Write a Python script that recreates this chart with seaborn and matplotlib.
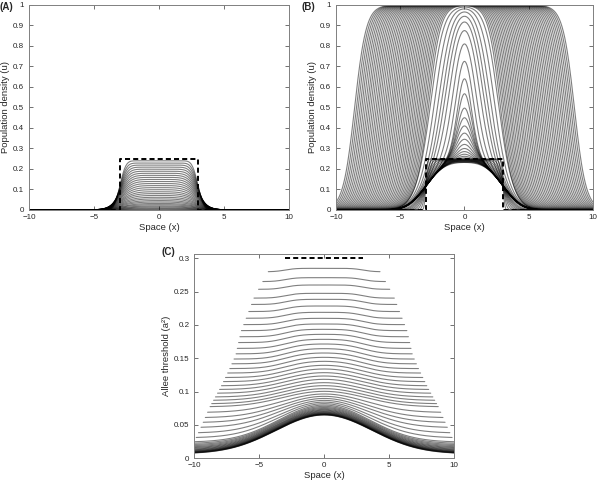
import math
import numpy as np
import pandas as pd
import matplotlib
matplotlib.use('Agg')
import matplotlib.pyplot as plt
import seaborn as sns

# ---- data ----
# (A) plateau heights and edge softness of the decaying curves
A_height = [0.240, 0.229, 0.219, 0.209, 0.199, 0.189, 0.179, 0.169, 0.159, 0.149,
            0.139, 0.129, 0.119, 0.109, 0.099, 0.089, 0.080, 0.071, 0.062, 0.054,
            0.046, 0.039, 0.032, 0.026, 0.020, 0.015, 0.010, 0.006, 0.003]
A_soft = [0.50, 0.56, 0.62, 0.68, 0.73, 0.78, 0.83, 0.88, 0.92, 0.96,
          1.00, 1.04, 1.08, 1.12, 1.16, 1.20, 1.24, 1.28, 1.32, 1.36,
          1.40, 1.44, 1.48, 1.52, 1.56, 1.60, 1.64, 1.68, 1.72]

# (B) box relaxing into the sub-threshold bump
B_box_height = [0.249, 0.247, 0.245, 0.243, 0.241, 0.239, 0.237, 0.235, 0.233, 0.232]
B_box_soft = [0.15, 0.30, 0.45, 0.60, 0.75, 0.90, 1.05, 1.20, 1.40, 1.60]
# (B) centre peaks of the growing arches
B_peak = [0.241, 0.247, 0.254, 0.262, 0.272, 0.285, 0.300, 0.320, 0.345, 0.375,
          0.410, 0.450, 0.497, 0.567, 0.640, 0.725, 0.810, 0.875, 0.917, 0.945,
          0.966, 0.981, 0.990]
# (B) half-level positions of the spreading fronts
B_front = [2.67, 2.81, 2.95, 3.09, 3.23, 3.37, 3.51, 3.65, 3.79, 3.93,
           4.07, 4.21, 4.35, 4.49, 4.63, 4.77, 4.91, 5.05, 5.19, 5.33,
           5.47, 5.61, 5.75, 5.89, 6.03, 6.17, 6.31, 6.45, 6.59, 6.73,
           6.87, 7.01, 7.15, 7.29, 7.43, 7.57, 7.71, 7.85, 7.99, 8.13,
           8.27, 8.41, 8.55]

# (C) centre values of the Allee threshold curves
C_height = [0.285, 0.271, 0.260, 0.2475, 0.2385, 0.2285, 0.219, 0.210, 0.2015, 0.1935,
            0.186, 0.1785, 0.1715, 0.1645, 0.158, 0.1515, 0.1455, 0.1395, 0.134, 0.1285,
            0.1235, 0.1185, 0.1135, 0.109, 0.1045, 0.1005, 0.0965, 0.093, 0.0898, 0.0869,
            0.0843, 0.082, 0.0799, 0.078, 0.0763, 0.0748, 0.0734, 0.0722, 0.0711, 0.0701,
            0.0692, 0.0684, 0.0677, 0.0671, 0.0666, 0.0662, 0.0658, 0.0655, 0.0652, 0.065]
# (C) where each curve ends and its value there, by centre value
C_tab_h = [0.065, 0.080, 0.088, 0.100, 0.125, 0.150, 0.170, 0.200, 0.250, 0.285]
C_tab_end = [10.0, 10.0, 9.4, 8.8, 8.0, 7.3, 6.8, 6.4, 5.35, 4.3]
C_tab_endval = [0.008, 0.025, 0.050, 0.077, 0.105, 0.133, 0.155, 0.190, 0.243, 0.280]
C_soft_h = [0.065, 0.100, 0.150, 0.200, 0.285]
C_soft = [4.5, 3.5, 2.0, 1.3, 0.9]

u0_x = [-10, -3, -3, 3, 3, 10]
u0_y = [0, 0, 0.25, 0.25, 0, 0]
a0_x = [-3, 3]
a0_y = [0.3, 0.3]

x = np.linspace(-10, 10, 401)
verf = np.vectorize(math.erf)


def erf_box(xx, s):
    return 0.5 * (verf((xx + 3) / s) - verf((xx - 3) / s))


def pulse(xx, r, w):
    return 0.5 * (np.tanh((xx + r) / w) - np.tanh((xx - r) / w))


def frame(curves):
    rows = []
    for k, (xx, yy) in enumerate(curves):
        rows.append(pd.DataFrame({'curve': k, 'x': xx, 'y': yy}))
    return pd.concat(rows, ignore_index=True)


# panel A
curves_a = []
for h, s in zip(A_height, A_soft):
    curves_a.append((x, h * erf_box(x, s) / erf_box(np.array([0.0]), s)[0]))

# panel B
curves_b = []
for h, s in zip(B_box_height, B_box_soft):
    curves_b.append((x, h * erf_box(x, s) / erf_box(np.array([0.0]), s)[0]))
bump = curves_b[-1][1]
b0 = B_box_height[-1]
for p in B_peak:
    w = np.interp(p, [0.24, 0.35, 0.5, 0.64, 0.8, 0.9, 0.98, 1.0],
                  [1.0, 0.9, 0.75, 0.68, 0.83, 0.95, 1.0, 1.0])
    r = w * np.arctanh((p - b0) / (1 - b0))
    g = pulse(x, r, w)
    curves_b.append((x, bump + (1 - bump) * g))
for r in B_front:
    g = pulse(x, r, 0.9)
    curves_b.append((x, bump + (1 - bump) * g))

# panel C
curves_c = []
for h in C_height:
    L = np.interp(h, C_tab_h, C_tab_end)
    e = np.interp(h, C_tab_h, C_tab_endval)
    s = np.interp(h, C_soft_h, C_soft)
    xx = np.linspace(-L, L, 301)
    S = erf_box(xx, s)
    S0 = erf_box(np.array([0.0]), s)[0]
    SL = erf_box(np.array([L]), s)[0]
    curves_c.append((xx, e + (h - e) * (S - SL) / (S0 - SL)))

# ---- drawing ----
sns.set_style('ticks')
plt.rcParams['font.family'] = ['Liberation Sans', 'DejaVu Sans']

fig = plt.figure(figsize=(6, 4.8), dpi=100)
ax_a = fig.add_axes([0.0483, 0.5625, 0.4334, 0.4271])
ax_b = fig.add_axes([0.5600, 0.5625, 0.4283, 0.4271])
ax_c = fig.add_axes([0.3238, 0.0452, 0.4329, 0.4263])

line_kw = dict(x='x', y='y', units='curve', estimator=None, sort=False,
               color='k', alpha=0.5, linewidth=0.8, legend=False)
sns.lineplot(data=frame(curves_a), ax=ax_a, **line_kw)
sns.lineplot(data=frame(curves_b), ax=ax_b, **line_kw)
sns.lineplot(data=frame(curves_c), ax=ax_c, **line_kw)

for ax in (ax_a, ax_b):
    ax.plot(u0_x, u0_y, color='k', lw=1.4, dashes=(2.6, 1.6))
ax_c.plot(a0_x, a0_y, color='k', lw=1.4, dashes=(2.6, 1.6))

u_ticks = [0, 0.1, 0.2, 0.3, 0.4, 0.5, 0.6, 0.7, 0.8, 0.9, 1]
u_labels = ['0', '0.1', '0.2', '0.3', '0.4', '0.5', '0.6', '0.7', '0.8', '0.9', '1']
a_ticks = [0, 0.05, 0.1, 0.15, 0.2, 0.25, 0.3]
a_labels = ['0', '0.05', '0.1', '0.15', '0.2', '0.25', '0.3']

for ax, ylim, yt, yl, lab in [(ax_a, (0, 1), u_ticks, u_labels, 'Population density (u)'),
                              (ax_b, (0, 1), u_ticks, u_labels, 'Population density (u)'),
                              (ax_c, (0, 0.307), a_ticks, a_labels, 'Allee threshold (a²)')]:
    ax.set_xlim(-10, 10)
    ax.set_ylim(*ylim)
    ax.set_xticks([-10, -5, 0, 5, 10])
    ax.set_xticklabels(['\u221210', '\u22125', '0', '5', '10'])
    ax.set_yticks(yt)
    ax.set_yticklabels(yl)
    ax.tick_params(direction='in', length=3, width=0.6, top=True, right=True,
                   labelsize=5.8, color='0.35')
    ax.tick_params(axis='x', pad=3)
    ax.tick_params(axis='y', pad=3.5)
    for sp in ax.spines.values():
        sp.set_visible(True)
        sp.set_linewidth(0.7)
        sp.set_color('0.5')
    ax.set_xlabel('Space (x)', fontsize=6.8, labelpad=1)
    ax.set_ylabel(lab, fontsize=6.8, labelpad=2)

fig.text(0.0, 1 - 2.5 / 480, '(A)', fontsize=7, fontweight='bold', va='top')
fig.text(302 / 600, 1 - 2.5 / 480, '(B)', fontsize=7, fontweight='bold', va='top')
fig.text(161 / 600, 1 - 247 / 480, '(C)', fontsize=7, fontweight='bold', va='top')

fig.savefig('out.png', dpi=100)
